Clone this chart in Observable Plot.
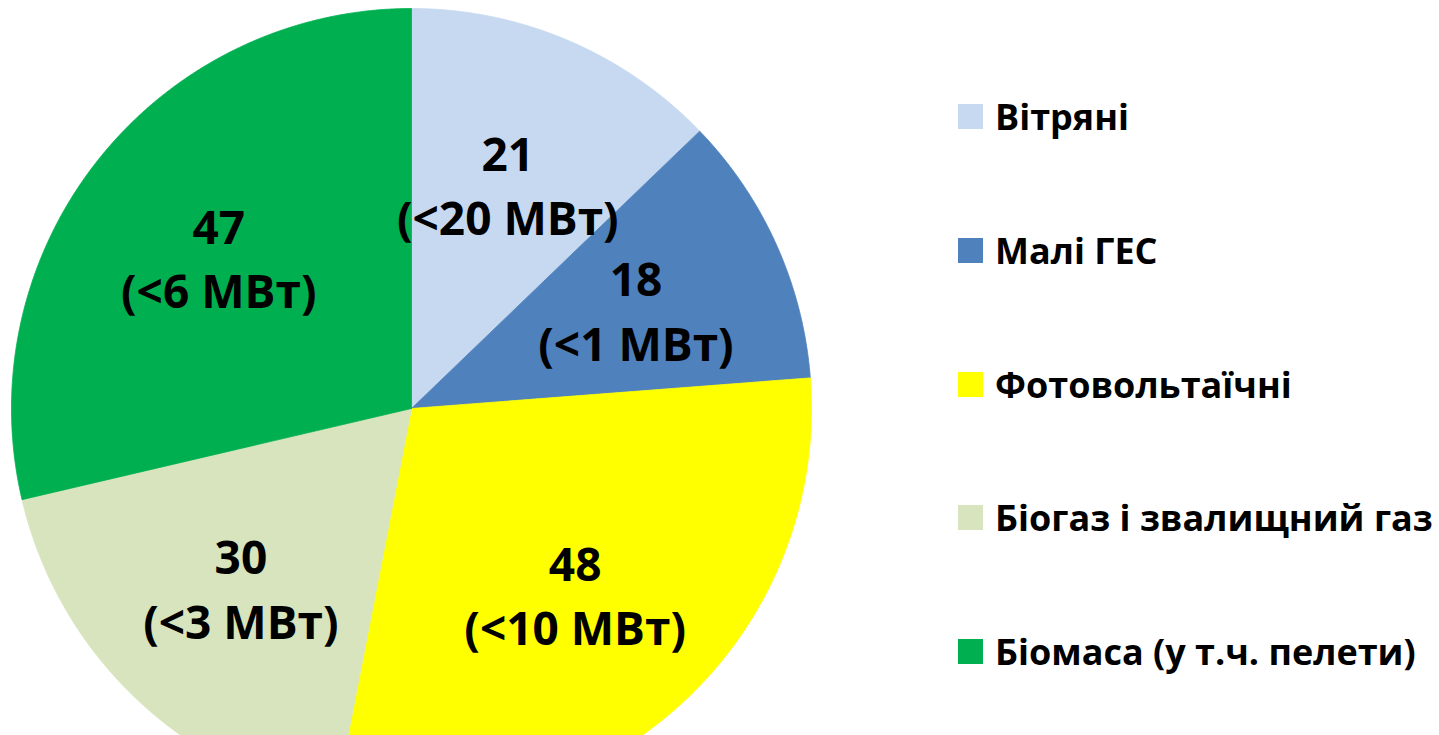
<!DOCTYPE html>
<html><head><meta charset="utf-8">
<script src="https://cdn.jsdelivr.net/npm/d3@7"></script>
<script src="https://cdn.jsdelivr.net/npm/@observablehq/plot@0.6"></script>
<style>
html,body{margin:0;padding:0;background:#fff;overflow:hidden;width:1439px;height:735px;}
#chart{position:absolute;left:0;top:0;}
#legend{position:absolute;left:958px;top:104px;font-family:"Open Sans",sans-serif;font-weight:700;font-size:36px;color:#000;}
.item{display:flex;align-items:center;height:25px;margin-bottom:108.8px;white-space:nowrap;}
.sw{width:25px;height:25px;margin-right:12px;flex:none;}
</style></head><body>
<div id="chart"></div><div id="legend"></div>
<script>
const categories = ["Вітряні", "Малі ГЕС", "Фотовольтаїчні", "Біогаз і звалищний газ", "Біомаса (у т.ч. пелети)"];
const values = [21, 18, 48, 30, 47];
const limits = ["<20 МВт", "<1 МВт", "<10 МВт", "<3 МВт", "<6 МВт"];
const colors = ["#C6D9F1", "#4F81BD", "#FFFF00", "#D7E4BD", "#00B050"];

// layout
const W = 1439, H = 735, CX = 411, CY = 408, R = 400, LABEL_R = 0.615;

const rows = categories.map((name, i) => ({name, value: values[i], limit: limits[i]}));
const arcs = d3.pie().sort(null).value(d => d.value)(rows);

// slice outlines in unit-circle coordinates (y up), angle clockwise from north
const slicePts = [];
arcs.forEach(a => {
  const name = a.data.name;
  slicePts.push({name, x: 0, y: 0});
  const n = Math.max(2, Math.ceil((a.endAngle - a.startAngle) / (Math.PI / 720)));
  for (let k = 0; k <= n; k++) {
    const t = a.startAngle + (a.endAngle - a.startAngle) * k / n;
    slicePts.push({name, x: Math.sin(t), y: Math.cos(t)});
  }
  slicePts.push({name, x: 0, y: 0});
});

const labels = arcs.map(a => {
  const m = (a.startAngle + a.endAngle) / 2;
  return {x: LABEL_R * Math.sin(m), y: LABEL_R * Math.cos(m), text: `${a.data.value}\n(${a.data.limit})`};
});

const chart = Plot.plot({
  width: W, height: H,
  marginTop: 0, marginRight: 0, marginBottom: 0, marginLeft: 0,
  x: {domain: [-CX / R, (W - CX) / R], range: [0, W], axis: null},
  y: {domain: [(CY - H) / R, CY / R], range: [H, 0], axis: null},
  color: {domain: categories, range: colors},
  style: {background: "transparent", overflow: "hidden"},
  marks: [
    Plot.line(slicePts, {x: "x", y: "y", z: "name", fill: "name", stroke: "name", strokeWidth: 0.8, curve: "linear"}),
    Plot.text(labels, {x: "x", y: "y", text: "text", fontSize: 46, fontWeight: "bold", lineHeight: 1.4,
      fill: "#000", fontFamily: "'Open Sans', sans-serif", textAnchor: "middle", lineAnchor: "middle"})
  ]
});
document.getElementById("chart").appendChild(chart);

const lg = d3.select("#legend");
categories.forEach((c, i) => {
  const it = lg.append("div").attr("class", "item");
  it.append("div").attr("class", "sw").style("background", colors[i]);
  it.append("span").text(c);
});
</script>
</body></html>
